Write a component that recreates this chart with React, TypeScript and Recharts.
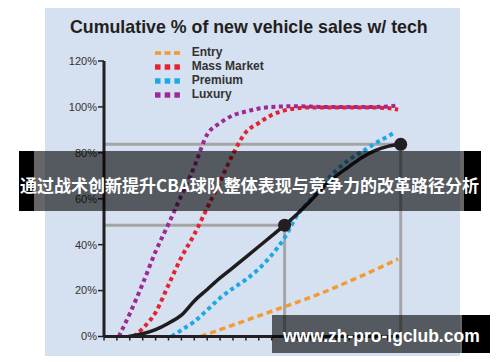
import React from 'react';
import {
  ComposedChart,
  Legend,
  Line,
  ReferenceLine,
  Scatter,
  XAxis,
  YAxis,
} from 'recharts';

// series values (x = tick index along the axis, y = %)
const ENTRY_X = [7.5, 9, 11, 13, 15, 17, 19, 21, 22.8];
const ENTRY_Y = [0, 3, 7, 11, 15, 19.2, 24, 29, 33.8];

const MASS_X = [2.3, 3, 4, 5, 6, 7, 8, 9, 10, 11, 12, 13, 14, 15, 16, 18, 20, 22, 22.8];
const MASS_Y = [0, 3.5, 10.5, 22.5, 34.5, 44.5, 56, 67.5, 79.5, 89, 93, 96.5, 98.5, 99.4, 99.8, 99.8, 99.8, 99.5, 98.8];

const PREMIUM_X = [5.25, 6, 7, 8, 9, 10, 11, 12, 13, 14, 15, 16, 17, 18, 19, 20, 21, 22, 22.55];
const PREMIUM_Y = [0, 2.8, 6.5, 11.5, 16.8, 21, 24.8, 29.5, 35.5, 43, 53, 59.5, 66.5, 72.3, 77, 80.5, 84, 87.2, 89];

const LUXURY_X = [1.15, 2, 3, 4, 5, 6, 7, 8, 9, 10, 11, 12, 13, 15, 17, 19, 21, 22.8];
const LUXURY_Y = [0, 10, 23, 37, 49, 61.5, 74, 88, 93, 96.3, 98, 99.3, 100, 100.3, 100, 100, 100, 100.6];

const TOTAL_X = [1.9, 3, 4, 5, 6, 7, 8, 9, 10, 11, 12, 13, 14, 15, 16, 17, 18, 19, 20, 21, 22, 23];
const TOTAL_Y = [0, 1.2, 3, 5.8, 9.3, 15.5, 20.5, 25.5, 30, 34.6, 39.2, 43.8, 48.5, 53.5, 59, 65, 70, 74, 78, 81, 82.8, 83.7];

// the two marked points on the black curve
const MARK_X = [14, 23];
const MARK_Y = [48.5, 83.7];

const X_TICKS = [0, 1, 2, 3, 4, 5, 6, 7, 8, 9, 10, 11, 12, 13, 14, 15, 16, 17, 18, 19, 20, 21, 22, 23];
const Y_TICKS = [0, 20, 40, 60, 80, 100, 120];

const TITLE = 'Cumulative % of new vehicle sales w/ tech';
const BANNER = '通过战术创新提升CBA球队整体表现与竞争力的改革路径分析';
const SITE = 'www.zh-pro-lgclub.com';

const zip = (xs: number[], ys: number[]) => xs.map((x, i) => ({ x, y: ys[i] }));

const SERIES = [
  { name: 'Entry', color: '#f29b30', dash: '6 4', width: 3.5, data: zip(ENTRY_X, ENTRY_Y) },
  { name: 'Mass Market', color: '#e52330', dash: '4 3.5', width: 4, data: zip(MASS_X, MASS_Y) },
  { name: 'Premium', color: '#1aa9e5', dash: '4 3.5', width: 4, data: zip(PREMIUM_X, PREMIUM_Y) },
  { name: 'Luxury', color: '#9c2a92', dash: '4 3.5', width: 4, data: zip(LUXURY_X, LUXURY_Y) },
];
const ORDER = SERIES.map((s) => s.name);

const TOTAL = zip(TOTAL_X, TOTAL_Y);
const MARKS = zip(MARK_X, MARK_Y);

const FONT = '"Liberation Sans", Arial, sans-serif';

const renderLegend = (props: any) => {
  const items = (props.payload || [])
    .filter((p: any) => p.type !== 'none')
    .sort((a: any, b: any) => ORDER.indexOf(a.value) - ORDER.indexOf(b.value));
  return (
    <div style={{ fontFamily: FONT, fontWeight: 'bold', fontSize: 12, color: '#333' }}>
      {items.map((item: any) => {
        const long = item.value === 'Entry';
        return (
          <div key={item.value} style={{ display: 'flex', alignItems: 'center', height: 13.9 }}>
            <svg width={25} height={6} style={{ display: 'block' }}>
              {[0, 1, 2].map((i) =>
                long ? (
                  <rect key={i} x={i * 9.5} y={1.2} width={6} height={3.6} fill={item.color} />
                ) : (
                  <rect key={i} x={i * 9.7} y={0.3} width={5.5} height={5.4} fill={item.color} />
                )
              )}
            </svg>
            <span style={{ marginLeft: 11.7, lineHeight: '13.9px' }}>{item.value}</span>
          </div>
        );
      })}
    </div>
  );
};

export default function App() {
  return (
    <div style={{ position: 'absolute', left: 0, top: 0, width: 500, height: 362, background: '#fff' }}>
      {/* card */}
      <div style={{ position: 'absolute', left: 45, top: 8, width: 415, height: 348, background: '#d5e0f0' }} />

      <div style={{ position: 'absolute', left: 0, top: 0 }}>
        <ComposedChart width={500} height={362} margin={{ top: 61, right: 99.3, left: 0, bottom: 0 }}>
          <XAxis
            dataKey="x"
            type="number"
            domain={[0, 23]}
            ticks={X_TICKS}
            height={25.5}
            tickSize={4}
            tickFormatter={() => ''}
            axisLine={{ stroke: '#231f20', strokeWidth: 3 }}
            tickLine={{ stroke: '#231f20', strokeWidth: 1.5 }}
          />
          <YAxis
            type="number"
            domain={[0, 120]}
            ticks={Y_TICKS}
            width={104}
            tickSize={6}
            tickMargin={1}
            tickFormatter={(v: number) => `${v}%`}
            tick={{ fontSize: 11, fill: '#333', fontFamily: FONT }}
            axisLine={{ stroke: '#231f20', strokeWidth: 3 }}
            tickLine={{ stroke: '#231f20', strokeWidth: 1.5 }}
          />

          {MARKS.map((m) => (
            <ReferenceLine
              key={`h${m.x}`}
              segment={[{ x: 0, y: m.y }, { x: m.x, y: m.y }]}
              stroke="#a5a5a5"
              strokeWidth={3}
            />
          ))}
          {MARKS.map((m) => (
            <ReferenceLine
              key={`v${m.x}`}
              segment={[{ x: m.x, y: m.y }, { x: m.x, y: 0 }]}
              stroke="#a5a5a5"
              strokeWidth={3}
            />
          ))}

          {SERIES.map((s) => (
            <Line
              key={s.name}
              data={s.data}
              dataKey="y"
              name={s.name}
              type="monotone"
              stroke={s.color}
              strokeWidth={s.width}
              strokeDasharray={s.dash}
              dot={false}
              activeDot={false}
              isAnimationActive={false}
            />
          ))}
          <Line
            data={TOTAL}
            dataKey="y"
            name="Total"
            type="monotone"
            stroke="#1f1c1d"
            strokeWidth={3.5}
            dot={false}
            activeDot={false}
            legendType="none"
            isAnimationActive={false}
          />
          <Scatter
            data={MARKS}
            dataKey="y"
            legendType="none"
            isAnimationActive={false}
            shape={(p: any) => <circle cx={p.cx} cy={p.cy} r={6.5} fill="#231f20" />}
          />

          <Legend
            layout="vertical"
            align="center"
            verticalAlign="middle"
            content={renderLegend}
            wrapperStyle={{ left: 155, top: 46.4, width: 'auto' }}
          />
        </ComposedChart>
      </div>

      {/* title and overlays */}
      <svg width={500} height={362} style={{ position: 'absolute', left: 0, top: 0, pointerEvents: 'none' }}>
        <text x={70} y={33.3} fontFamily={FONT} fontWeight="bold" fontSize={17.8} fill="#231f20">
          {TITLE}
        </text>

        <rect x={19} y={151} width={462} height={60} fill="rgba(0,0,0,0.6)" />
        <rect x={19} y={151} width={15} height={60} fill="#000" />
        <rect x={464} y={151} width={17} height={60} fill="#000" />
        <text
          x={20}
          y={191.5}
          textLength={459}
          lengthAdjust="spacingAndGlyphs"
          fontFamily='"Noto Sans CJK SC", sans-serif'
          fontWeight="bold"
          fontSize={17}
          fill="#fff"
        >
          {BANNER}
        </text>

        <rect x={272} y={315} width={218} height={38} fill="rgba(0,0,0,0.6)" />
        <rect x={462} y={315} width={28} height={38} fill="#000" />
        <text x={283} y={341.7} fontFamily={FONT} fontWeight="bold" fontSize={17.5} fill="#fff">
          {SITE}
        </text>
      </svg>
    </div>
  );
}
